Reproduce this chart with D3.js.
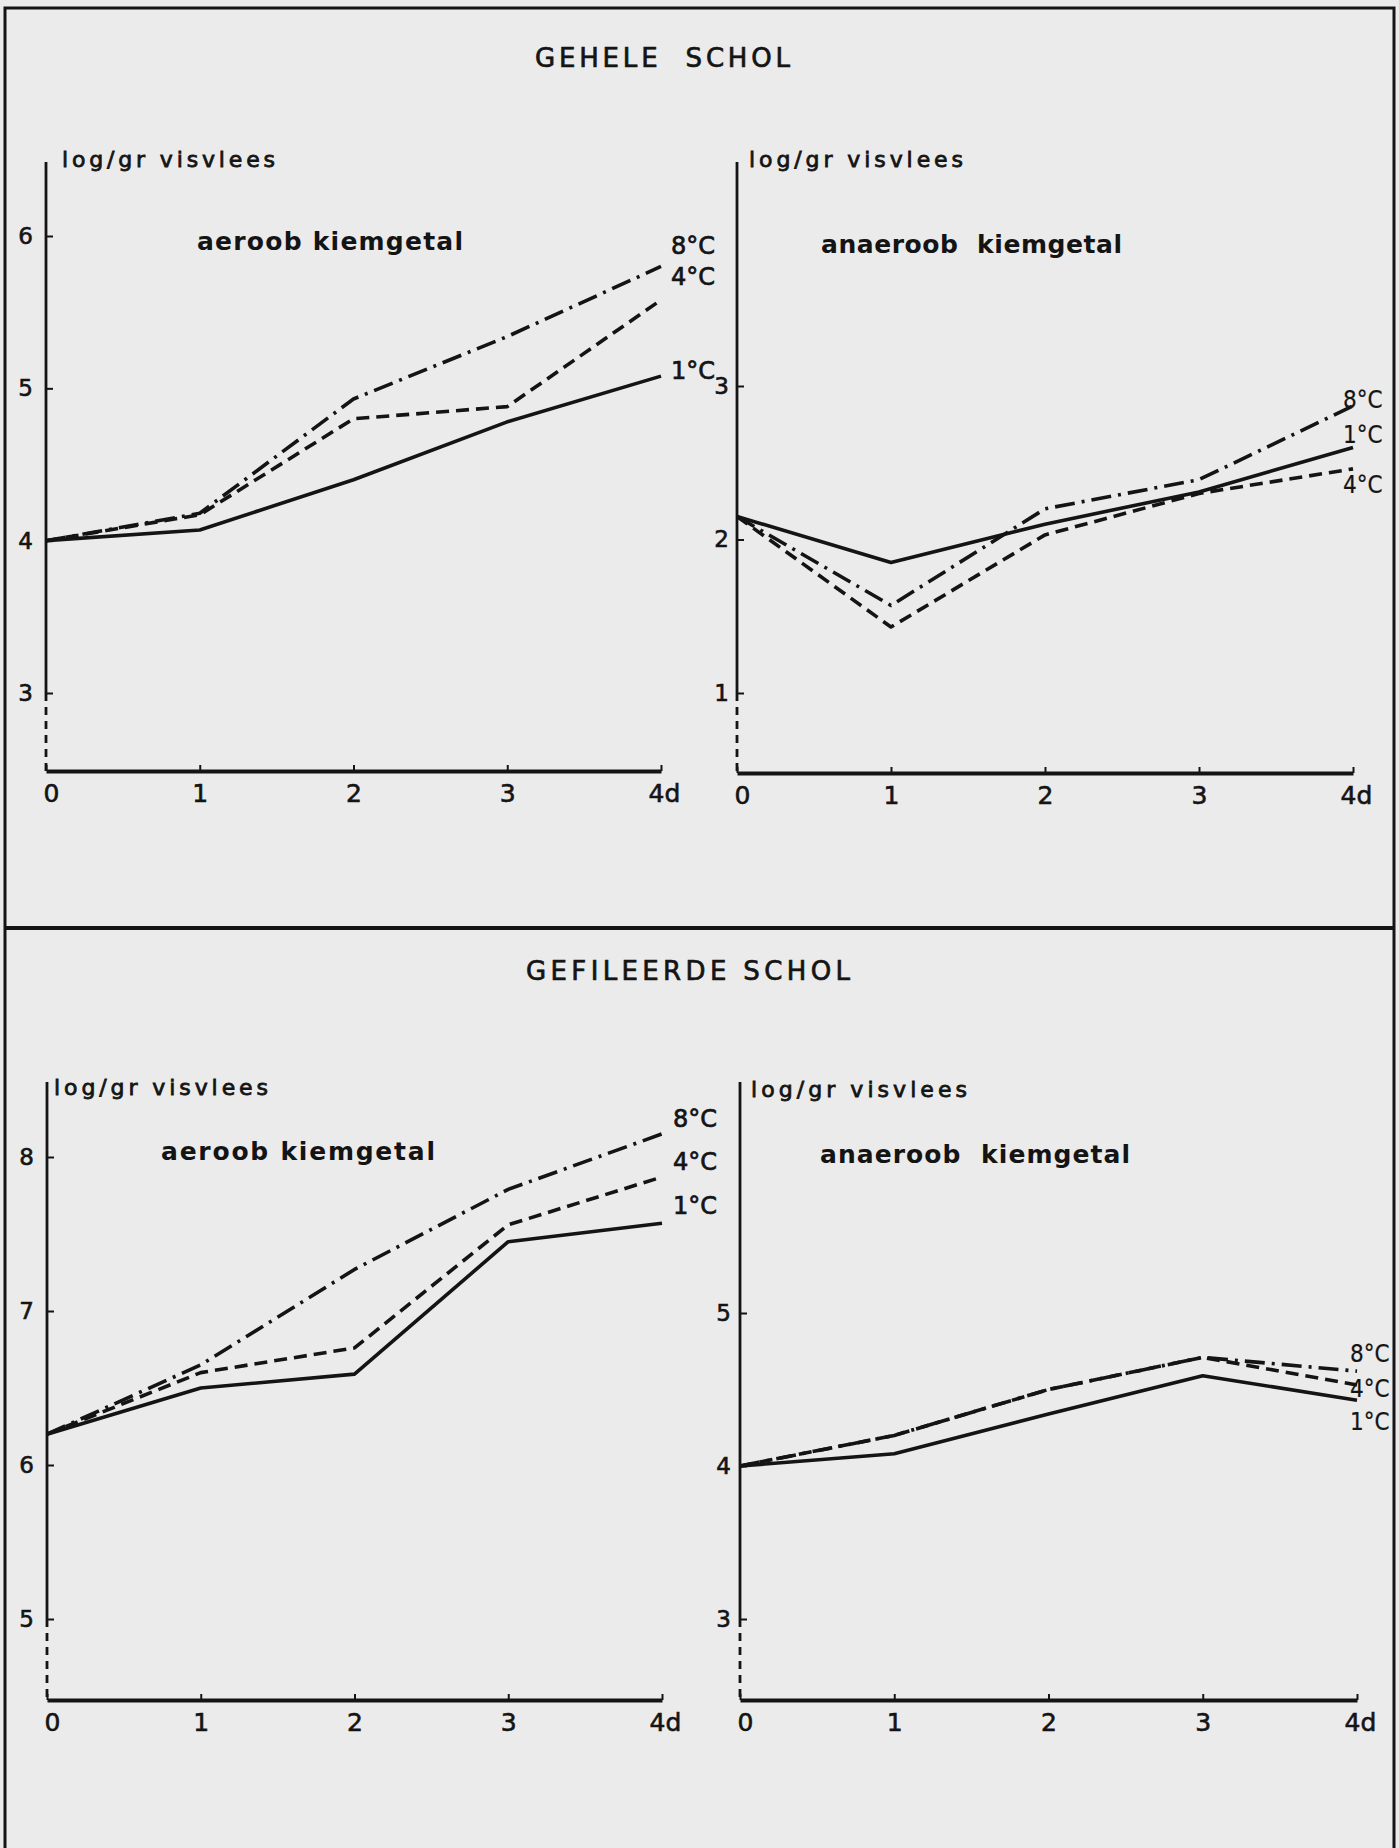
<!DOCTYPE html>
<html><head><meta charset="utf-8">
<script src="https://cdn.jsdelivr.net/npm/d3@7"></script>
<style>html,body{margin:0;padding:0;background:#ebebeb;} svg{display:block;}</style>
</head><body>
<svg id="chart" width="1399" height="1848"></svg>
<script>
// ---------- data ----------
const days = [0, 1, 2, 3, 4];
const dayLabels = ["0", "1", "2", "3", "4d"];
const tempNames = ["1°C", "4°C", "8°C"];
const sectionTitles = ["GEHELE  SCHOL", "GEFILEERDE SCHOL"];
const panelTitles = ["aeroob kiemgetal", "anaeroob  kiemgetal"];
const yAxisTitle = "log/gr visvlees";

// gehele schol – aeroob kiemgetal
const geheleAeroob1 = [4.0, 4.07, 4.40, 4.78, 5.08];
const geheleAeroob4 = [4.0, 4.17, 4.80, 4.88, 5.58];
const geheleAeroob8 = [4.0, 4.18, 4.93, 5.34, 5.80];
// gehele schol – anaeroob kiemgetal
const geheleAnaeroob1 = [2.15, 1.85, 2.10, 2.31, 2.60];
const geheleAnaeroob4 = [2.15, 1.43, 2.03, 2.30, 2.46];
const geheleAnaeroob8 = [2.15, 1.57, 2.20, 2.39, 2.87];
// gefileerde schol – aeroob kiemgetal
const filetAeroob1 = [6.2, 6.50, 6.59, 7.45, 7.57];
const filetAeroob4 = [6.2, 6.60, 6.76, 7.56, 7.87];
const filetAeroob8 = [6.2, 6.65, 7.27, 7.79, 8.15];
// gefileerde schol – anaeroob kiemgetal
const filetAnaeroob1 = [4.0, 4.08, 4.34, 4.59, 4.43];
const filetAnaeroob4 = [4.0, 4.20, 4.50, 4.71, 4.53];
const filetAnaeroob8 = [4.0, 4.20, 4.50, 4.71, 4.62];

const ticksTL = [3, 4, 5, 6];
const ticksTR = [1, 2, 3];
const ticksBL = [5, 6, 7, 8];
const ticksBR = [3, 4, 5];

// ---------- layout ----------
const ink = "#141414";
const dashStyles = [null, "13,7", "20,7,3,7"];

const panels = [
  { series: [geheleAeroob1, geheleAeroob4, geheleAeroob8], ticks: ticksTL, title: panelTitles[0],
    xr: [46, 661], yr: [693, 236], top: 162, base: 771, pad: 13,
    titlePos: [197, 250, 266], axTitlePos: [62, 167, 213],
    lab: { dx: 10, dy: [3, -15, -12], bold: true } },
  { series: [geheleAnaeroob1, geheleAnaeroob4, geheleAnaeroob8], ticks: ticksTR, title: panelTitles[1],
    xr: [737, 1353], yr: [693, 386], top: 162, base: 773, pad: 8,
    titlePos: [821, 253, 301], axTitlePos: [749, 167, 214],
    lab: { dx: -10, dy: [-4, 24, 2], bold: false } },
  { series: [filetAeroob1, filetAeroob4, filetAeroob8], ticks: ticksBL, title: panelTitles[0],
    xr: [47, 662], yr: [1619, 1157], top: 1082, base: 1700, pad: 13,
    titlePos: [161, 1160, 274], axTitlePos: [54, 1095, 214],
    lab: { dx: 11, dy: [-9, -7, -7], bold: true } },
  { series: [filetAnaeroob1, filetAnaeroob4, filetAnaeroob8], ticks: ticksBR, title: panelTitles[1],
    xr: [740, 1357], yr: [1619, 1313], top: 1082, base: 1700, pad: 9,
    titlePos: [820, 1163, 310], axTitlePos: [751, 1097, 216],
    lab: { dx: -7, dy: [30, 12, -9], bold: false } }
];

const svg = d3.select("#chart");
svg.append("rect").attr("width", 1399).attr("height", 1848).attr("fill", "#ebebeb");

// frame
svg.append("path")
  .attr("d", "M5,1860 L5,8 L1394,8 L1394,1860")
  .attr("fill", "none").attr("stroke", ink).attr("stroke-width", 3);
svg.append("line").attr("x1", 5).attr("x2", 1394).attr("y1", 928).attr("y2", 928)
  .attr("stroke", ink).attr("stroke-width", 4);

const font = "'DejaVu Sans', sans-serif";

// section titles
[[sectionTitles[0], 535, 67, 255], [sectionTitles[1], 526, 980, 324]].forEach(([t, x, y, w]) => {
  svg.append("text").attr("x", x).attr("y", y).text(t)
    .style("white-space", "pre")
    .attr("font-family", font).attr("font-size", 26).attr("fill", ink)
    .attr("stroke", ink).attr("stroke-width", 0.7)
    .attr("textLength", w).attr("lengthAdjust", "spacing");
});

panels.forEach(p => {
  const g = svg.append("g");
  const lo = d3.min(p.ticks), hi = d3.max(p.ticks);
  const x = d3.scaleLinear().domain([0, 4]).range(p.xr);
  const y = d3.scaleLinear().domain([lo, hi]).range(p.yr);

  // y axis: solid part then dashed break down to x-axis
  g.append("line").attr("x1", x(0)).attr("x2", x(0)).attr("y1", p.top).attr("y2", y(lo))
    .attr("stroke", ink).attr("stroke-width", 2.8);
  g.append("line").attr("x1", x(0)).attr("x2", x(0)).attr("y1", y(lo)).attr("y2", p.base)
    .attr("stroke", ink).attr("stroke-width", 2.8).attr("stroke-dasharray", "8,6");

  const yAxis = d3.axisLeft(y).tickValues(p.ticks).tickSizeInner(-7).tickSizeOuter(0).tickPadding(p.pad)
    .tickFormat(d3.format("d"));
  const ya = g.append("g").attr("transform", `translate(${x(0)},0)`).call(yAxis);
  ya.select(".domain").remove();
  ya.selectAll(".tick line").attr("stroke", ink).attr("stroke-width", 2);
  ya.selectAll(".tick text").attr("font-family", font).attr("font-size", 23).attr("fill", ink)
    .attr("stroke", ink).attr("stroke-width", 0.6);

  // x axis
  const xAxis = d3.axisBottom(x).tickValues(days).tickSizeInner(-6).tickSizeOuter(0).tickPadding(13)
    .tickFormat((d, i) => dayLabels[i]);
  const xa = g.append("g").attr("transform", `translate(0,${p.base})`).call(xAxis);
  xa.select(".domain").attr("stroke", ink).attr("stroke-width", 4);
  xa.selectAll(".tick line").attr("stroke", ink).attr("stroke-width", 2);
  xa.selectAll(".tick text").attr("font-family", font).attr("font-size", 25).attr("fill", ink)
    .attr("stroke", ink).attr("stroke-width", 0.6)
    .attr("dx", (d, i) => i === 0 ? 5 : (i === 4 ? 3 : 0));

  // axis title and panel title
  g.append("text").attr("x", p.axTitlePos[0]).attr("y", p.axTitlePos[1]).text(yAxisTitle)
    .attr("font-family", font).attr("font-size", 22).attr("fill", ink)
    .attr("stroke", ink).attr("stroke-width", 0.8)
    .attr("textLength", p.axTitlePos[2]).attr("lengthAdjust", "spacing");
  g.append("text").attr("x", p.titlePos[0]).attr("y", p.titlePos[1]).text(p.title)
    .style("white-space", "pre")
    .attr("font-family", font).attr("font-weight", "bold").attr("font-size", 25).attr("fill", ink)
    .attr("textLength", p.titlePos[2]).attr("lengthAdjust", "spacing");

  // lines
  const line = d3.line().x((d, i) => x(days[i])).y(d => y(d));
  p.series.forEach((s, k) => {
    const path = g.append("path").datum(s).attr("d", line)
      .attr("fill", "none").attr("stroke", ink).attr("stroke-width", 3.6)
      .attr("stroke-linejoin", "round");
    if (dashStyles[k]) path.attr("stroke-dasharray", dashStyles[k]);
    // end label
    g.append("text")
      .attr("x", x(4) + p.lab.dx)
      .attr("y", y(s[s.length - 1]) + p.lab.dy[k])
      .text(tempNames[k])
      .attr("font-family", p.lab.bold ? font : "'DejaVu Sans Condensed', sans-serif")
      .attr("font-size", p.lab.bold ? 24 : 24)
      .attr("fill", ink)
      .attr("stroke", ink).attr("stroke-width", p.lab.bold ? 0.7 : 0.2);
  });
});
</script>
</body></html>
